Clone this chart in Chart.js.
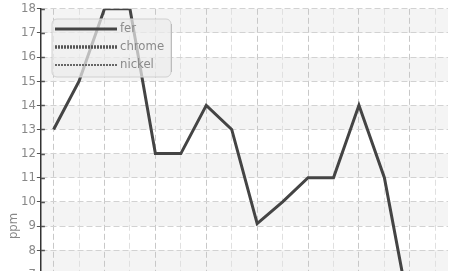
<!DOCTYPE html>
<html>
<head>
<meta charset="utf-8">
<script src="https://cdn.jsdelivr.net/npm/chart.js@4.4.1/dist/chart.umd.min.js"></script>
<style>
  html, body { margin: 0; padding: 0; background: #fff; overflow: hidden; }
  #wrap { width: 469px; height: 452px; }
</style>
</head>
<body>
<div id="wrap"><canvas id="ppmChart"></canvas></div>
<script>
const FONT = "'Liberation Sans Narrow', 'DejaVu Sans Condensed', sans-serif";

// x categories (labels sit below the visible crop)
const samples = ["1", "2", "3", "4", "5", "6", "7", "8", "9", "10", "11", "12", "13", "14", "15", "16"];
const fer = [13, 15, 18, 18, 12, 12, 14, 13, 9.1, 10, 11, 11, 14, 11, 5.4, 4];
const chrome = [];
const nickel = [];

const Y_MIN = 0;
const Y_MAX = 18;

// alternate grey bands + small inward tick marks on the y axis
const bandsPlugin = {
    id: "bands",
    beforeDraw(chart) {
        const { ctx, chartArea, scales } = chart;
        const y = scales.y;
        ctx.save();
        ctx.fillStyle = "#f4f4f4";
        y.ticks.forEach(t => {
            if (t.value % 2 === 1 && t.value < Y_MAX) {
                const top = y.getPixelForValue(t.value + 1);
                const bot = y.getPixelForValue(t.value);
                ctx.fillRect(chartArea.left, top, chartArea.right - chartArea.left, bot - top);
            }
        });
        ctx.restore();
    },
    afterDatasetsDraw(chart) {
        const { ctx, chartArea, scales } = chart;
        const y = scales.y;
        ctx.save();
        ctx.strokeStyle = "#555";
        ctx.lineWidth = 1.5;
        y.ticks.forEach(t => {
            const py = Math.round(y.getPixelForValue(t.value)) + 0.5;
            ctx.beginPath();
            ctx.moveTo(chartArea.left, py);
            ctx.lineTo(chartArea.left + 4, py);
            ctx.stroke();
        });
        ctx.restore();
    }
};

// legend box drawn inside the plot, top-left
const legendPlugin = {
    id: "boxLegend",
    afterDraw(chart) {
        const { ctx } = chart;
        const x0 = 52, y0 = 19, w = 119, h = 58, r = 5;
        ctx.save();
        ctx.beginPath();
        ctx.roundRect(x0, y0, w, h, r);
        ctx.fillStyle = "rgba(236,236,236,0.72)";
        ctx.fill();
        ctx.strokeStyle = "#d0d0d0";
        ctx.lineWidth = 1;
        ctx.stroke();
        ctx.beginPath();
        ctx.moveTo(x0 + w + 0.5, y0 + r);
        ctx.lineTo(x0 + w + 0.5, y0 + h - r);
        ctx.strokeStyle = "#bcbcbc";
        ctx.stroke();

        ctx.font = "13px " + FONT;
        ctx.textBaseline = "middle";
        chart.data.datasets.forEach((ds, i) => {
            const ly = y0 + 10 + i * 18;
            ctx.beginPath();
            ctx.setLineDash(ds.borderDash || []);
            ctx.lineWidth = ds.borderWidth;
            ctx.strokeStyle = ds.borderColor;
            ctx.moveTo(55, ly);
            ctx.lineTo(117, ly);
            ctx.stroke();
            ctx.setLineDash([]);
            ctx.fillStyle = "#8a8a8a";
            ctx.fillText(ds.label, 120, ly);
        });
        ctx.restore();
    }
};

const ctx = document.getElementById("ppmChart").getContext("2d");

const ppmChart = new Chart(ctx, {
    type: "line",
    data: {
        labels: samples,
        datasets: [
            {
                label: "fer",
                data: fer,
                borderColor: "#444",
                borderWidth: 3,
                pointRadius: 0,
                tension: 0
            },
            {
                label: "chrome",
                data: chrome,
                borderColor: "#555",
                borderWidth: 3.5,
                borderDash: [2, 1],
                pointRadius: 0
            },
            {
                label: "nickel",
                data: nickel,
                borderColor: "#666",
                borderWidth: 2,
                borderDash: [2, 1],
                pointRadius: 0
            }
        ]
    },
    options: {
        animation: false,
        responsive: true,
        maintainAspectRatio: false,
        devicePixelRatio: 1,
        layout: { padding: { top: 2, right: 21, bottom: 1, left: 1 } },
        plugins: {
            legend: { display: false },
            tooltip: { enabled: false }
        },
        scales: {
            x: {
                offset: true,
                ticks: { display: false },
                border: { display: false, dash: [6, 3] },
                grid: {
                    drawTicks: false,
                    color: c => c.index % 2 === 0 ? "#c8c8c8" : "#e0e0e0"
                }
            },
            y: {
                min: Y_MIN,
                max: Y_MAX,
                ticks: {
                    stepSize: 1,
                    color: "#888",
                    padding: 1,
                    font: { family: FONT, size: 13 }
                },
                border: { color: "#333", width: 1.5, dash: [6, 3] },
                grid: {
                    color: "#d2d2d2",
                    tickColor: "#555",
                    tickLength: 4,
                    tickBorderDash: []
                },
                title: {
                    display: true,
                    text: "ppm",
                    color: "#888",
                    padding: { top: 6, bottom: 0 },
                    font: { family: FONT, size: 13, lineHeight: 1 }
                }
            }
        }
    },
    plugins: [bandsPlugin, legendPlugin]
});
</script>
</body>
</html>
